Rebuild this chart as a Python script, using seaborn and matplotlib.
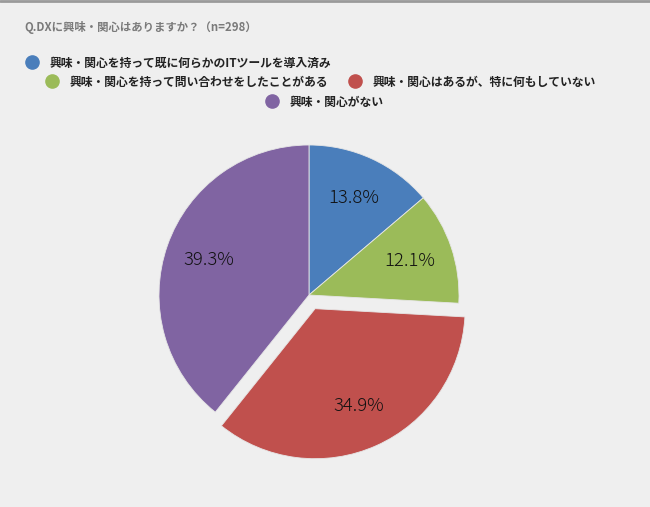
import matplotlib.pyplot as plt
from matplotlib.lines import Line2D
import seaborn as sns

title = "Q.DXに興味・関心はありますか？（n=298）"
categories = [
    "興味・関心を持って既に何らかのITツールを導入済み",
    "興味・関心を持って問い合わせをしたことがある",
    "興味・関心はあるが、特に何もしていない",
    "興味・関心がない",
]
shares = [13.8, 12.1, 34.9, 39.3]
colors = ["#4a7ebb", "#9bbb59", "#c0504d", "#8064a2"]
explode = [0, 0, 0.1, 0]

sns.set_theme(style="white")
plt.rcParams["font.family"] = ["Noto Sans CJK JP", "DejaVu Sans"]

W, H = 650, 507
bg = "#efefef"
fig = plt.figure(figsize=(W / 100, H / 100), dpi=100)
fig.patch.set_facecolor(bg)

# pie: centre at (309, 295) px, radius 150 px
ax = fig.add_axes([139 / W, (H - 295 - 170) / H, 340 / W, 340 / H])
ax.set_facecolor(bg)
ax.pie(
    shares,
    colors=colors,
    explode=explode,
    startangle=90,
    counterclock=False,
    autopct="%.1f%%",
    pctdistance=0.71,
    wedgeprops=dict(edgecolor="#e6e6e6", linewidth=0.6),
    textprops=dict(fontsize=13.3, color="#111111", fontweight="light"),
)
lim = 170 / 150
ax.set_xlim(-lim, lim)
ax.set_ylim(-lim, lim)
ax.axis("off")

# title and top rule
fig.text(24 / W, 1 - 27 / H, title, ha="left", va="center",
         fontsize=8.2, fontweight="bold", color="#7a7a7a")
fig.add_artist(Line2D([0, 1], [1 - 1 / H, 1 - 1 / H], transform=fig.transFigure,
                      color="#9a9a9a", linewidth=2))

# legend, three rows like the original
handles = [
    Line2D([], [], linestyle="none", marker="o", markersize=9.5,
           markerfacecolor=c, markeredgecolor=c)
    for c in colors
]
rows = [([0], 26, 63), ([1, 2], 46, 82), ([3], 266, 102)]
for idx, x0, y0 in rows:
    leg = fig.legend(
        [handles[i] for i in idx],
        [categories[i] for i in idx],
        loc="center left",
        bbox_to_anchor=(x0 / W, 1 - y0 / H),
        ncol=len(idx),
        frameon=False,
        borderpad=0,
        borderaxespad=0,
        handlelength=1.0,
        handletextpad=1.0,
        columnspacing=1.75,
        prop=dict(size=8.5, weight="bold"),
    )
    for t in leg.get_texts():
        t.set_color("#222222")

fig.savefig("out.png", dpi=100, facecolor=fig.get_facecolor())
